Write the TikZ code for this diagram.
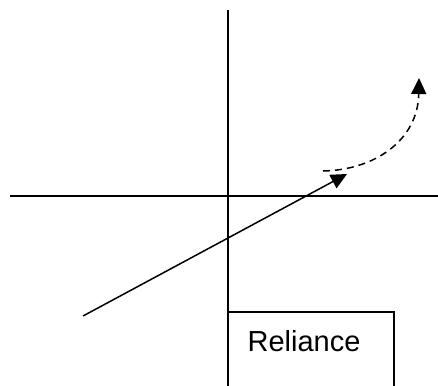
\documentclass[tikz,border=0pt]{standalone}
\usepackage{fontspec}
\setmainfont{Liberation Sans}
\usetikzlibrary{arrows.meta}
\begin{document}
\begin{tikzpicture}[x=1pt,y=-1pt,line width=1.5pt,
  tip/.style={-{Triangle[length=16pt,width=15pt]}},
  lbl/.style={font=\fontsize{29}{33}\selectfont,inner sep=0pt}]
\useasboundingbox (0,0) rectangle (438,385);
\clip (0,0) rectangle (438,385);
% axes
\coordinate (xl) at (10,196);
\coordinate (xr) at (440,196);
\coordinate (yt) at (228,10);
\coordinate (yb) at (228,390);
\draw (xl) -- (xr);
\draw (yt) -- (yb);
% box
\coordinate (bl) at (228,390);
\coordinate (tl) at (228,312);
\coordinate (tr) at (394,312);
\coordinate (br) at (394,390);
\draw (bl) -- (tl) -- (tr) -- (br);
\node[lbl] (rel) at (304,341) {Reliance};
% solid arrow
\coordinate (s0) at (83,316);
\coordinate (s1) at (347,174);
\draw[tip] (s0) -- (s1);
% dashed curve
\coordinate (d0) at (323,171);
\coordinate (d1) at (419,78);
\draw[tip,dash pattern=on 7pt off 5pt] (d0) .. controls (375,170) and (418,140) .. (d1);
\end{tikzpicture}
\end{document}
